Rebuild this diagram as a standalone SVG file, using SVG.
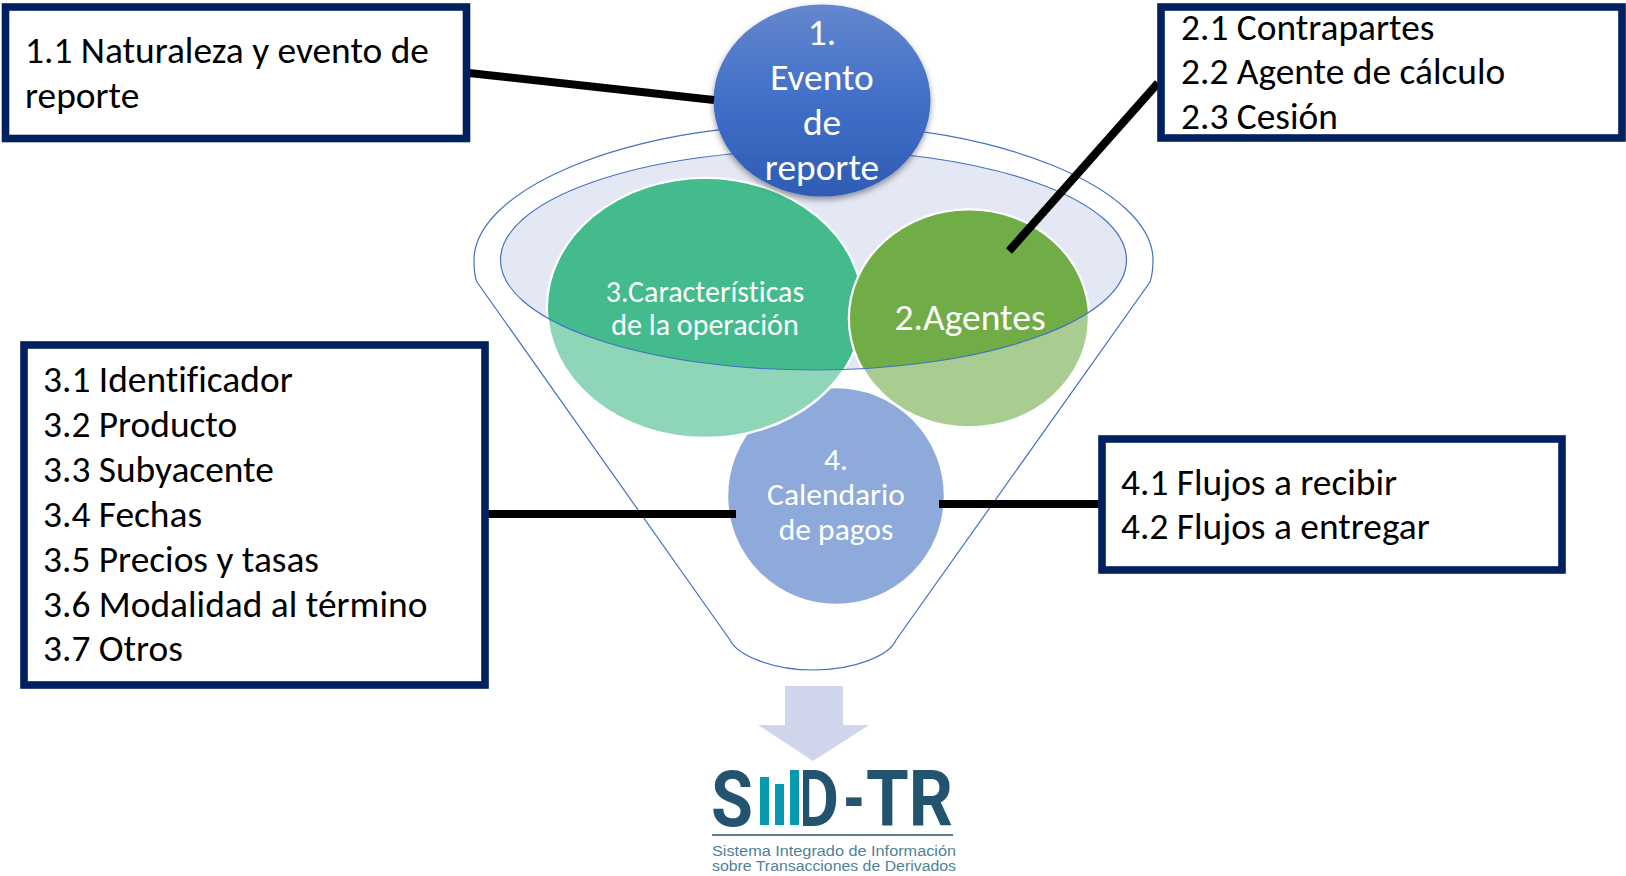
<svg xmlns="http://www.w3.org/2000/svg" width="1626" height="876" viewBox="0 0 1626 876">
<style>
text{font-family:Carlito,Lato,"Liberation Sans",sans-serif;font-variant-ligatures:none}
.box{fill:#fff;stroke:#002060;stroke-width:7.6}
.t{font-size:37.4px;fill:#000}
.w{fill:#fff;text-anchor:middle}
.conn{stroke:#000;stroke-width:8;fill:none}
.fun{fill:#fff;stroke:#4472c4;stroke-width:1.2}
.c{stroke:#fff;stroke-width:2.5}
text.lg{font-family:Roboto,"Liberation Sans",sans-serif;font-weight:700;fill:#22536f;font-size:78px}
text.ls{font-family:"Liberation Sans",sans-serif;fill:#4f7f97;font-size:14px}
</style>
<defs>
<linearGradient id="g1" x1="0" y1="0" x2="0" y2="1"><stop offset="0" stop-color="#6487cd"/><stop offset=".5" stop-color="#416fc8"/><stop offset="1" stop-color="#2f5cb4"/></linearGradient>
<clipPath id="inner"><ellipse cx="813.5" cy="260" rx="313" ry="110"/></clipPath>
<filter id="sh" x="-10%" y="-10%" width="120%" height="120%"><feDropShadow dx="0" dy="3" stdDeviation="3" flood-color="#000" flood-opacity=".4"/></filter>
</defs>
<g id="funnel">
<path class="fun" d="M477 282C474 276 474 268 474 260C474 190 626 124 813.5 124C1001 124 1153 190 1153 260C1153 268 1152 276 1150 282L896 640C890 655 855 670 813.5 670C772 670 737 655 730 640Z"/>
<ellipse cx="813.5" cy="260" rx="313" ry="110" fill="#e4e8f4"/>
</g>
<g id="node-4">
<ellipse class="c" cx="836" cy="496" rx="109" ry="109" fill="#8eaadb"/>
<text class="w" x="836" y="470" font-size="31.500">4.</text>
<text class="w" x="836" y="505" font-size="31.500">Calendario</text>
<text class="w" x="836" y="540" font-size="31.500">de pagos</text>
</g>
<g id="node-3">
<ellipse class="c" cx="705" cy="308" rx="158" ry="130" fill="#8fd6b8"/>
<ellipse cx="705" cy="308" rx="157" ry="129" fill="#43bb8c" clip-path="url(#inner)"/>
<text class="w" x="705" y="302" font-size="30">3.Características</text>
<text class="w" x="705" y="335" font-size="30">de la operación</text>
</g>
<g id="node-2">
<ellipse class="c" cx="969" cy="318.500" rx="120" ry="109" fill="#a9cd90"/>
<ellipse cx="969" cy="318.500" rx="119" ry="108" fill="#70ad47" clip-path="url(#inner)"/>
<text class="w" x="970" y="330" font-size="37.500">2.Agentes</text>
</g>
<ellipse id="funnel-rim" cx="813.5" cy="260" rx="313" ry="110" fill="none" stroke="#4472c4" stroke-width="1.2"/>
<g id="node-1">
<ellipse cx="822" cy="100.5" rx="108.5" ry="96" fill="url(#g1)" filter="url(#sh)"/>
<text class="w" x="822" y="45" font-size="37.400">1.</text>
<text class="w" x="822" y="90" font-size="37.400">Evento</text>
<text class="w" x="822" y="135" font-size="37.400">de</text>
<text class="w" x="822" y="180" font-size="37.400">reporte</text>
</g>
<g id="connectors">
<line class="conn" x1="469" y1="73" x2="714" y2="100"/>
<line class="conn" x1="1158" y1="83" x2="1009" y2="251"/>
<line class="conn" x1="485" y1="514" x2="736" y2="514"/>
<line class="conn" x1="939" y1="504" x2="1100" y2="504"/>
</g>
<g id="box-1">
<rect class="box" x="5.500" y="7" width="461" height="131.500"/>
<text class="t" x="25" y="63">1.1 Naturaleza y evento de</text>
<text class="t" x="25" y="108">reporte</text>
</g>
<g id="box-2">
<rect class="box" x="1161" y="7" width="461" height="131"/>
<text class="t" x="1181" y="40">2.1 Contrapartes</text>
<text class="t" x="1181" y="84">2.2 Agente de cálculo</text>
<text class="t" x="1181" y="129">2.3 Cesión</text>
</g>
<g id="box-3">
<rect class="box" x="24" y="345" width="461" height="340"/>
<text class="t" x="43" y="392">3.1 Identificador</text>
<text class="t" x="43" y="437">3.2 Producto</text>
<text class="t" x="43" y="482">3.3 Subyacente</text>
<text class="t" x="43" y="527">3.4 Fechas</text>
<text class="t" x="43" y="572">3.5 Precios y tasas</text>
<text class="t" x="43" y="617">3.6 Modalidad al término</text>
<text class="t" x="43" y="661">3.7 Otros</text>
</g>
<g id="box-4">
<rect class="box" x="1102" y="439" width="460" height="131"/>
<text class="t" x="1121" y="495">4.1 Flujos a recibir</text>
<text class="t" x="1121" y="539">4.2 Flujos a entregar</text>
</g>
<polygon id="arrow" points="785,686 843,686 843,725 869,725 813,761 758,725 785,725" fill="#cfd5ea"/>
<g id="logo">
<text class="lg" x="711" y="826" textLength="42" lengthAdjust="spacingAndGlyphs">S</text>
<rect x="760" y="777" width="9" height="48" fill="#0899b0"/>
<rect x="775" y="784" width="9" height="41" fill="#0899b0"/>
<rect x="790" y="770" width="9" height="55" fill="#0899b0"/>
<text class="lg" x="795" y="826" textLength="44" lengthAdjust="spacingAndGlyphs">D</text>
<rect x="799" y="765" width="4" height="65" fill="#fff"/>
<text class="lg" x="843" y="826" textLength="22" lengthAdjust="spacingAndGlyphs">-</text>
<text class="lg" x="866" y="826" textLength="87" lengthAdjust="spacingAndGlyphs">TR</text>
<line x1="712" y1="835" x2="953" y2="835" stroke="#22536f" stroke-width="1.5"/>
<text class="ls" x="712" y="856" textLength="244" lengthAdjust="spacingAndGlyphs">Sistema Integrado de Información</text>
<text class="ls" x="712" y="871" textLength="244" lengthAdjust="spacingAndGlyphs">sobre Transacciones de Derivados</text>
</g>
</svg>
